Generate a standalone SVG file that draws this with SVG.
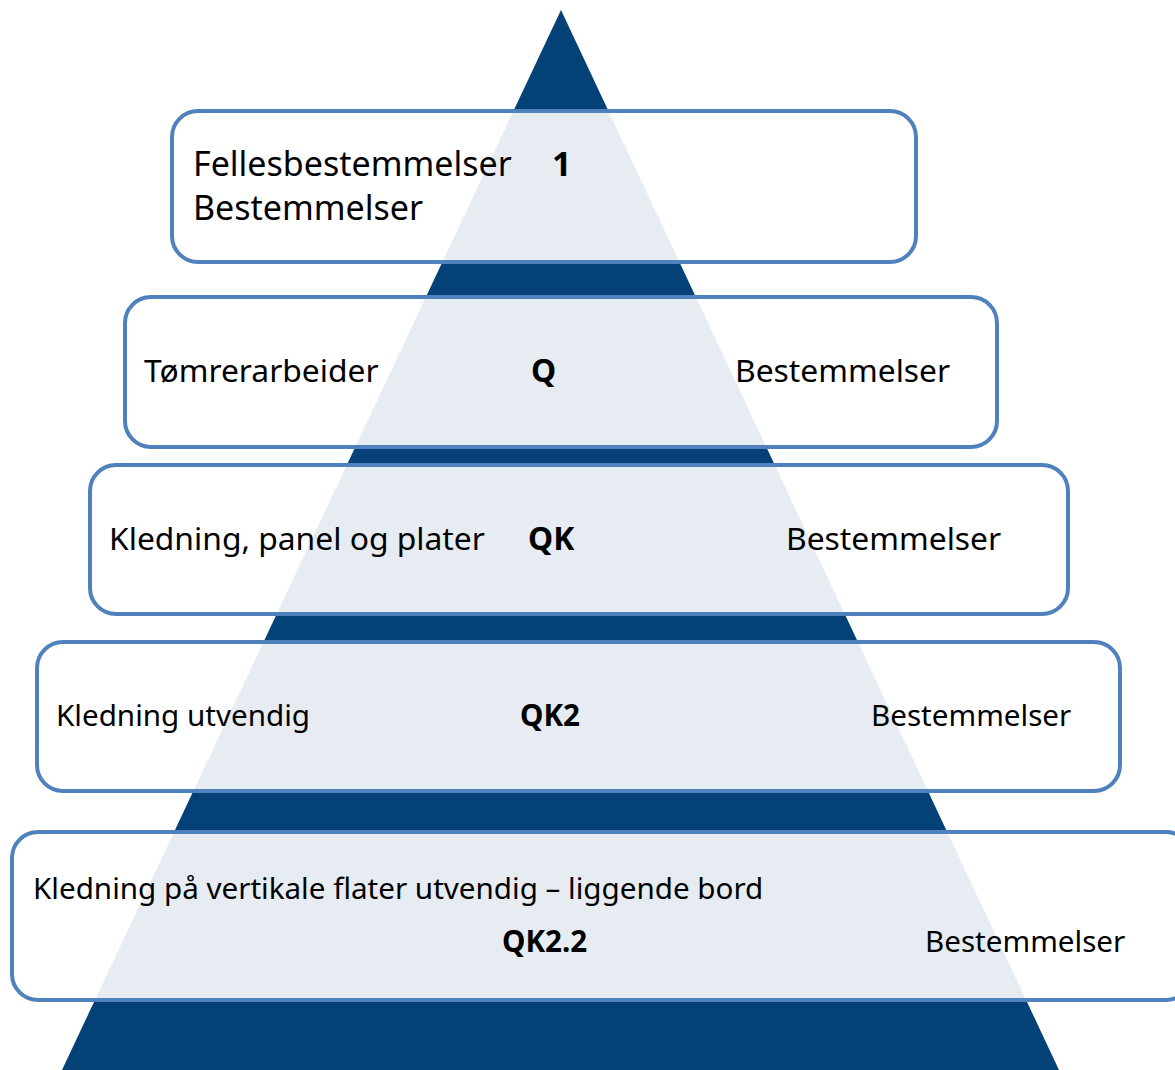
<svg xmlns="http://www.w3.org/2000/svg" width="1175" height="1070" viewBox="0 0 1175 1070">
<style>
.box{fill:#ffffff;fill-opacity:0.9;stroke:#4f81bd;stroke-width:4}
text{font-family:"Noto Sans","Open Sans","Liberation Sans",sans-serif;fill:#000}
.b{font-weight:bold}
.s1{font-size:34px}
.s2{font-size:31.8px}
.s3{font-size:29.6px}
</style>
<rect width="1175" height="1070" fill="#ffffff"/>
<polygon id="pyramid" points="561,10 1059,1070 62,1070" fill="#044176"/>
<g id="level1">
<rect class="box" x="172" y="111" width="744" height="151" rx="26"/>
<text class="s1" x="193" y="176">Fellesbestemmelser</text>
<text class="s1 b" x="552" y="176">1</text>
<text class="s1" x="193" y="220">Bestemmelser</text>
</g>
<g id="level2">
<rect class="box" x="125" y="297" width="872" height="150" rx="26"/>
<text class="s2" x="144" y="382">Tømrerarbeider</text>
<text class="s2 b" x="531" y="382">Q</text>
<text class="s2" x="735" y="382">Bestemmelser</text>
</g>
<g id="level3">
<rect class="box" x="90" y="465" width="978" height="149" rx="26"/>
<text class="s2" x="109" y="550">Kledning, panel og plater</text>
<text class="s2 b" x="528" y="550">QK</text>
<text class="s2" x="786" y="550">Bestemmelser</text>
</g>
<g id="level4">
<rect class="box" x="37" y="642" width="1083" height="149" rx="26"/>
<text class="s3" x="56" y="726">Kledning utvendig</text>
<text class="s3 b" x="520" y="726">QK2</text>
<text class="s3" x="871" y="726">Bestemmelser</text>
</g>
<g id="level5">
<rect class="box" x="12" y="832" width="1180" height="168" rx="26"/>
<text class="s3" x="33" y="899">Kledning på vertikale flater utvendig – liggende bord</text>
<text class="s3 b" x="502" y="952">QK2.2</text>
<text class="s3" x="925" y="952">Bestemmelser</text>
</g>
<g id="connectors"></g>
</svg>
